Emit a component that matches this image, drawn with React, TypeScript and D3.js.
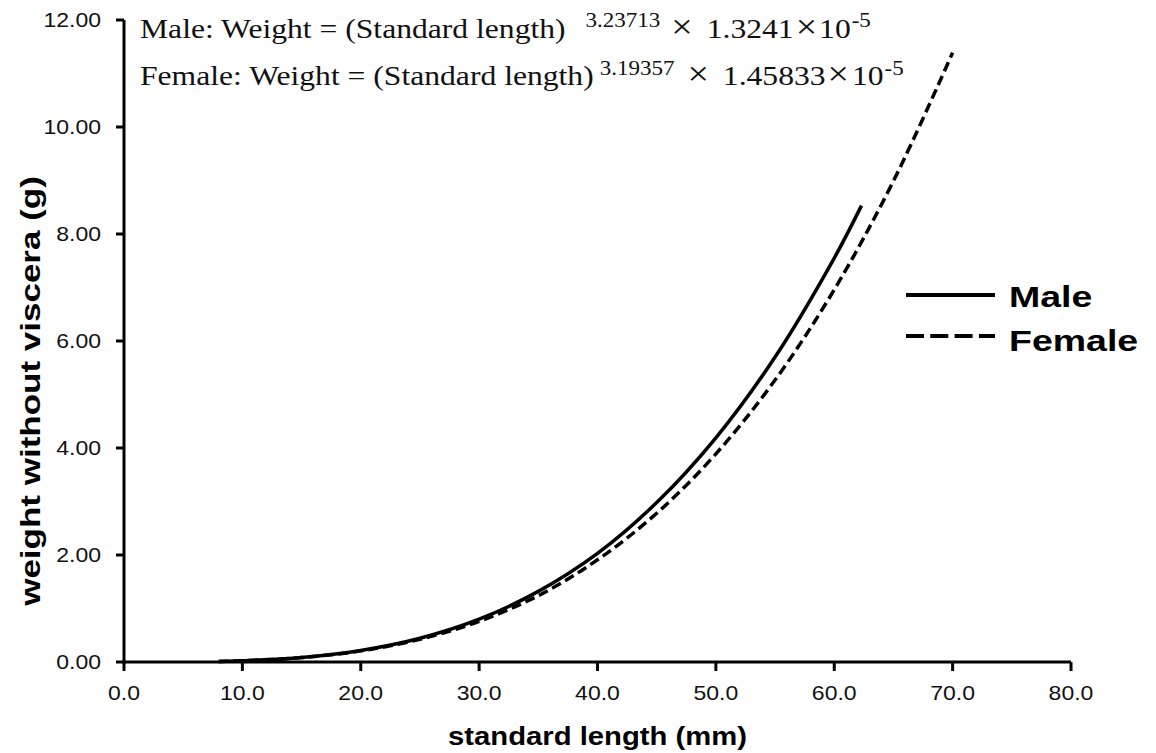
import React from 'react';
import * as d3 from 'd3';

// standard length (mm) vs weight without viscera (g)
const MALE_LENGTH = [8, 10, 15, 20, 25, 30, 35, 40, 45, 50, 55, 60, 62.3];
const MALE_WEIGHT = [0.011, 0.023, 0.085, 0.216, 0.444, 0.80, 1.32, 2.03, 2.98, 4.19, 5.70, 7.55, 8.53];
const FEMALE_LENGTH = [8, 10, 15, 20, 25, 30, 35, 40, 45, 50, 55, 60, 65, 70];
const FEMALE_WEIGHT = [0.011, 0.023, 0.083, 0.208, 0.425, 0.76, 1.24, 1.91, 2.78, 3.89, 5.27, 6.96, 8.99, 11.39];

const X_TICKS = [0, 10, 20, 30, 40, 50, 60, 70, 80];
const Y_TICKS = [0, 2, 4, 6, 8, 10, 12];

const W = 1156;
const H = 753;
const SANS = 'Arial, "Liberation Sans", sans-serif';
const SERIF = '"Times New Roman", "Liberation Serif", serif';
const SX = 1.15; // the source picture is stretched sideways

export default function App() {
  const x = d3.scaleLinear().domain([0, 80]).range([124, 1071]);
  const y = d3.scaleLinear().domain([0, 12]).range([662, 20]);

  const line = d3.line<[number, number]>()
    .x(d => x(d[0]))
    .y(d => y(d[1]))
    .curve(d3.curveCatmullRom);

  const male = MALE_LENGTH.map((l, i) => [l, MALE_WEIGHT[i]] as [number, number]);
  const female = FEMALE_LENGTH.map((l, i) => [l, FEMALE_WEIGHT[i]] as [number, number]);

  const stretched = (tx: number, ty: number, sx = SX) => `translate(${tx},${ty}) scale(${sx},1)`;
  const gap = (px: number) => px / SX; // screen px -> text units inside the scaled text
  const TIMES_SIGN = 33;

  return (
    <svg width={W} height={H} style={{ position: 'absolute', left: 0, top: 0, background: '#fff' }}>
      {/* curves */}
      <path d={line(male) || ''} fill="none" stroke="#000" strokeWidth={3.5} />
      <path d={line(female) || ''} fill="none" stroke="#000" strokeWidth={3.5} strokeDasharray="10,5" />

      {/* axes */}
      <line x1={x(0)} x2={x(80)} y1={y(0)} y2={y(0)} stroke="#000" strokeWidth={3} />
      <line x1={x(0)} x2={x(0)} y1={y(0) + 1.5} y2={y(12)} stroke="#000" strokeWidth={3} />

      {X_TICKS.map(t => (
        <g key={'x' + t}>
          <line x1={x(t)} x2={x(t)} y1={y(0)} y2={y(0) + 9} stroke="#000" strokeWidth={3} />
          <text transform={stretched(x(t), 700)} textAnchor="middle" fontFamily={SANS} fontSize={20} fill="#111">
            {d3.format('.1f')(t)}
          </text>
        </g>
      ))}
      {Y_TICKS.map(t => (
        <g key={'y' + t}>
          <line x1={x(0) - 8} x2={x(0)} y1={y(t)} y2={y(t)} stroke="#000" strokeWidth={3} />
          <text transform={stretched(101, y(t) + 7)} textAnchor="end" fontFamily={SANS} fontSize={20} fill="#111">
            {d3.format('.2f')(t)}
          </text>
        </g>
      ))}

      {/* axis titles */}
      <text transform={stretched((x(0) + x(80)) / 2, 745, 1.17)} textAnchor="middle" fontFamily={SANS} fontSize={25} fontWeight="bold">
        standard length (mm)
      </text>
      <text transform={`translate(40,391) rotate(-90) scale(1.25,1)`} textAnchor="middle" fontFamily={SANS} fontSize={28} fontWeight="bold">
        weight without viscera (g)
      </text>

      {/* equations */}
      <text transform={stretched(140, 38)} fontFamily={SERIF} fontSize={27.5} fill="#111">
        <tspan>Male: Weight = (Standard length)</tspan>
        <tspan fontSize={20} dy={-11} dx={gap(20)}>3.23713</tspan>
        <tspan fontSize={TIMES_SIGN} dy={11} dx={gap(11)}>{'\u00d7'}</tspan>
        <tspan dx={gap(14)}>1.3241</tspan>
        <tspan fontSize={TIMES_SIGN} dx={gap(2)}>{'\u00d7'}</tspan>
        <tspan dx={gap(2)}>10</tspan>
        <tspan fontSize={20} dy={-11} dx={gap(1)}>-5</tspan>
      </text>
      <text transform={stretched(140, 85)} fontFamily={SERIF} fontSize={27.5} fill="#111">
        <tspan>Female: Weight = (Standard length)</tspan>
        <tspan fontSize={20} dy={-10} dx={gap(6)}>3.19357</tspan>
        <tspan fontSize={TIMES_SIGN} dy={10} dx={gap(13)}>{'\u00d7'}</tspan>
        <tspan dx={gap(14)}>1.45833</tspan>
        <tspan fontSize={TIMES_SIGN} dx={gap(2)}>{'\u00d7'}</tspan>
        <tspan dx={gap(3)}>10</tspan>
        <tspan fontSize={20} dy={-10} dx={gap(1)}>-5</tspan>
      </text>

      {/* legend */}
      <line x1={906} x2={995} y1={295} y2={295} stroke="#000" strokeWidth={4} />
      <line x1={906} x2={995} y1={336} y2={336} stroke="#000" strokeWidth={4} strokeDasharray="18,6.3" />
      <text transform={stretched(1009, 307, 1.25)} fontFamily={SANS} fontSize={30} fontWeight="bold">Male</text>
      <text transform={stretched(1009, 351, 1.25)} fontFamily={SANS} fontSize={30} fontWeight="bold">Female</text>
    </svg>
  );
}
